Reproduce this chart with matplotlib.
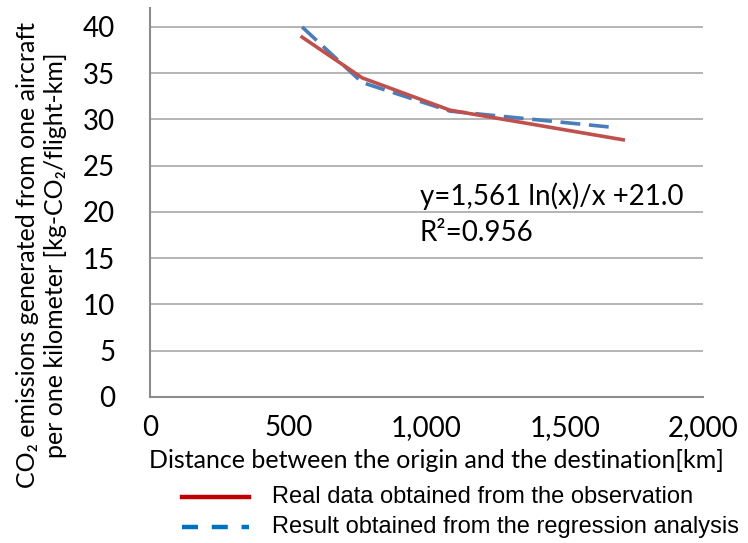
import matplotlib
matplotlib.use("Agg")
import matplotlib.pyplot as plt
from matplotlib.lines import Line2D

# Data
real_x = [550, 767, 1085, 1711]
real_y = [38.9, 34.5, 31.0, 27.8]
reg_x = [550, 767, 1085, 1690]
reg_y = [40.0, 34.0, 30.9, 29.1]
x_ticks = [0, 500, 1000, 1500, 2000]
x_ticklabels = ["0", "500", "1,000", "1,500", "2,000"]
y_ticks = [0, 5, 10, 15, 20, 25, 30, 35, 40]

FAM = ["Lato", "DejaVu Sans"]
plt.rcParams["font.family"] = FAM

fig = plt.figure(figsize=(7.48, 5.43), dpi=100)
ax = fig.add_axes([0.2005, 0.2689, 0.7395, 0.7164])

ax.plot(reg_x, reg_y, color="#4A7EBB", lw=2.6, ls=(0, (5.5, 2.4)), zorder=3)
ax.plot(real_x, real_y, color="#C0504D", lw=2.6, zorder=4)

ax.set_xlim(0, 2000)
ax.set_ylim(0, 42.05)
ax.set_xticks(x_ticks)
ax.set_xticklabels(x_ticklabels)
ax.set_yticks(y_ticks)
ax.tick_params(axis="both", length=0, labelsize=20, colors="black")
ax.tick_params(axis="y", pad=25)
ax.tick_params(axis="x", pad=13)
ax.grid(axis="y", color="#A0A0A0", lw=1.1)
ax.set_axisbelow(True)
for s in ["top", "right"]:
    ax.spines[s].set_visible(False)
for s in ["left", "bottom"]:
    ax.spines[s].set_color("#8C8C8C")
    ax.spines[s].set_linewidth(1.5)

fig.text(436/748, 1-461/543, "Distance between the origin and the destination[km]",
         fontsize=18, ha="center", va="center")
fig.text(41.5/748, 1-255/543, "CO\u2082 emissions generated from one aircraft\nper one kilometer [kg-CO\u2082/flight-km]",
         rotation=90, ha="center", va="center", fontsize=18, linespacing=1.25)

ax.text(0.488, 0.515, "y=1,561 ln(x)/x +21.0", transform=ax.transAxes, fontsize=20, va="center")
ax.text(0.488, 0.422, "R\u00b2=0.956", transform=ax.transAxes, fontsize=20, va="center")

# Legend
fig.add_artist(Line2D([182/748, 249/748], [1-497/543, 1-497/543], color="#C00000", lw=3.2))
fig.add_artist(Line2D([182/748, 249/748], [1-527/543, 1-527/543], color="#0070C0", lw=3.2,
                      ls=(0, (3.6, 3.1))))
fig.text(272/748, 1-497/543, "Real data obtained from the observation", fontsize=17,
         family=["Liberation Sans", "DejaVu Sans"], va="center")
fig.text(272/748, 1-527/543, "Result obtained from the regression analysis", fontsize=17,
         family=["Liberation Sans", "DejaVu Sans"], va="center")

fig.savefig("out.png", dpi=100)
